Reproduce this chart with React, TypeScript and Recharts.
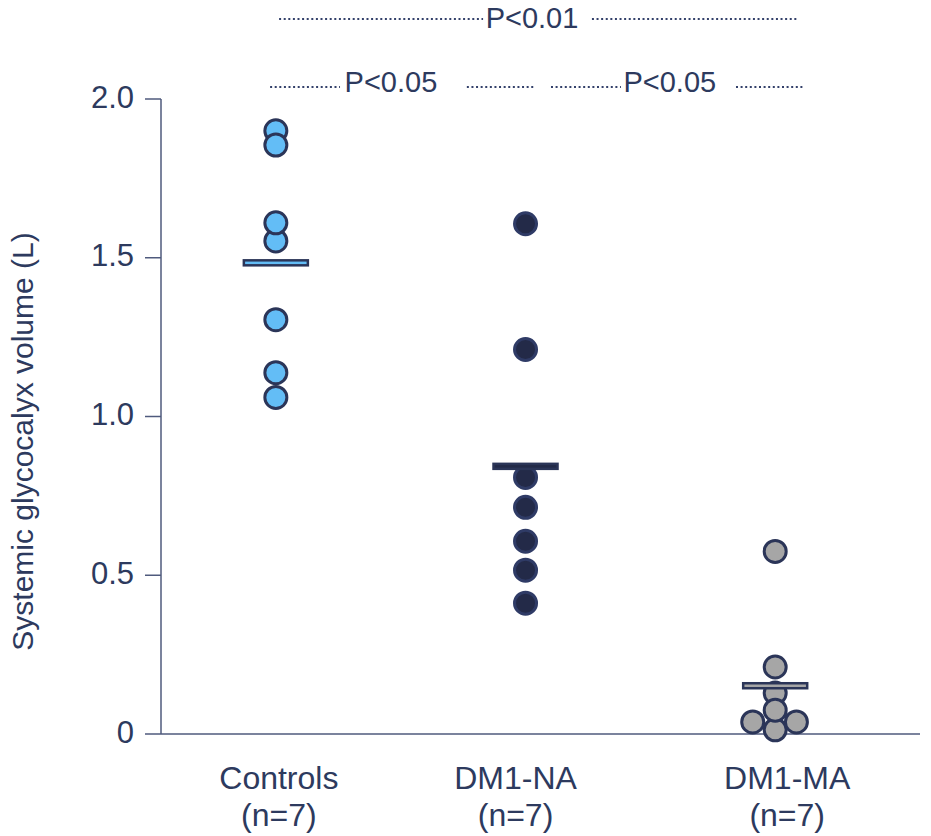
import React from 'react';
import {
  ScatterChart,
  Scatter,
  XAxis,
  YAxis,
  ReferenceLine,
  ReferenceDot,
} from 'recharts';

// groups on the x axis
const categories = ['Controls', 'DM1-NA', 'DM1-MA'];
const groupCounts = ['(n=7)', '(n=7)', '(n=7)'];

// individual values (L), listed in drawing order
const controlsValues = [1.9, 1.855, 1.553, 1.61, 1.305, 1.138, 1.06];
const dm1naValues = [1.607, 1.211, 0.808, 0.714, 0.607, 0.516, 0.412];
const dm1maValues = [0.013, 0.038, 0.038, 0.129, 0.075, 0.211, 0.575];
// horizontal spread of overlapping DM1-MA points (in group units)
const dm1maJitter = [0, -0.09, 0.085, 0, 0, 0, 0];

// group means as drawn
const groupMeans = [1.484, 0.843, 0.152];

const yTicks = [0, 0.5, 1, 1.5, 2];

// significance brackets: dotted segments [x1, x2, y] and their labels
const sigSegments = [
  [1.013, 1.83, 2.252],
  [2.266, 3.087, 2.252],
  [0.977, 1.257, 2.038],
  [1.765, 2.038, 2.038],
  [2.102, 2.382, 2.038],
  [2.843, 3.119, 2.038],
];
const sigLabels = [
  { x: 2.026, y: 2.255, text: 'P<0.01' },
  { x: 1.461, y: 2.053, text: 'P<0.05' },
  { x: 2.578, y: 2.053, text: 'P<0.05' },
];

const FONT = '"Liberation Sans", Arial, sans-serif';
const TEXT = '#2d3a5e';
const AXIS = '#4f5a7d';
const OUTLINE = '#2b3558';
const fills = ['#63bdf6', '#232a48', '#a6a6a6'];

const controlsData = controlsValues.map(v => ({ x: 1, y: v }));
const dm1naData = dm1naValues.map(v => ({ x: 2, y: v }));
const dm1maData = dm1maValues.map((v, i) => ({ x: 3 + dm1maJitter[i], y: v }));
const meanData = groupMeans.map((m, i) => ({ x: i + 1, y: m, g: i }));

const dotShape = (fill: string, stroke: string) => (p: any) => (
  <circle cx={p.cx} cy={p.cy} r={11} fill={fill} stroke={stroke} strokeWidth={3} />
);

const MeanShape = (p: any) => (
  <rect
    x={p.cx - 32}
    y={p.cy - 2.5}
    width={64}
    height={5}
    fill={fills[p.payload.g]}
    stroke={OUTLINE}
    strokeWidth={2.5}
  />
);

// category labels sit a little off the group centres in the original
const labelNudge = [3, -10, 12];

const XTick = (p: any) => {
  const i = p.payload.value - 1;
  const x = p.x + labelNudge[i];
  return (
    <text textAnchor="middle" fontFamily={FONT} fontSize={32} fill={TEXT}>
      <tspan x={x} y={p.y + 47}>{categories[i]}</tspan>
      <tspan x={x} y={p.y + 84}>{groupCounts[i]}</tspan>
    </text>
  );
};

const YTick = (p: any) => (
  <text
    x={p.x}
    y={p.y - 2}
    textAnchor="end"
    dominantBaseline="central"
    fontFamily={FONT}
    fontSize={31}
    fill={TEXT}
  >
    {p.payload.value === 0 ? '0' : p.payload.value.toFixed(1)}
  </text>
);

const YLabel = (p: any) => {
  const vb = p.viewBox;
  const cx = 22;
  const cy = vb.y + vb.height / 2 + 25;
  return (
    <text
      x={cx}
      y={cy}
      transform={`rotate(-90 ${cx} ${cy})`}
      textAnchor="middle"
      dominantBaseline="central"
      fontFamily={FONT}
      fontSize={30}
      fill={TEXT}
    >
      Systemic glycocalyx volume (L)
    </text>
  );
};

export default function App() {
  return (
    <div style={{ position: 'absolute', left: 0, top: 0, background: '#fff' }}>
      <ScatterChart
        width={931}
        height={836}
        margin={{ top: 99, right: 11, bottom: 0, left: 0 }}
      >
        <XAxis
          type="number"
          dataKey="x"
          domain={[0.54, 3.58]}
          ticks={[1, 2, 3]}
          height={102}
          tickLine={false}
          axisLine={{ stroke: AXIS, strokeWidth: 1.5 }}
          tick={<XTick />}
          allowDataOverflow
        />
        <YAxis
          type="number"
          dataKey="y"
          domain={[0, 2]}
          ticks={yTicks}
          width={161}
          tickSize={16}
          tickMargin={11}
          axisLine={{ stroke: AXIS, strokeWidth: 1.5 }}
          tickLine={{ stroke: AXIS, strokeWidth: 1.5 }}
          tick={<YTick />}
          label={<YLabel />}
        />
        <Scatter data={controlsData} shape={dotShape(fills[0], OUTLINE)} isAnimationActive={false} />
        <Scatter data={dm1naData} shape={dotShape(fills[1], '#2f3b66')} isAnimationActive={false} />
        <Scatter data={dm1maData} shape={dotShape(fills[2], OUTLINE)} isAnimationActive={false} />
        <Scatter data={meanData} shape={MeanShape} isAnimationActive={false} />
        {sigSegments.map((s, i) => (
          <ReferenceLine
            key={`seg-${i}`}
            segment={[{ x: s[0], y: s[2] }, { x: s[1], y: s[2] }]}
            stroke="#33406a"
            strokeWidth={2}
            strokeDasharray="2 2.6"
            ifOverflow="visible"
          />
        ))}
        {sigLabels.map((l, i) => (
          <ReferenceDot
            key={`lab-${i}`}
            x={l.x}
            y={l.y}
            r={0}
            ifOverflow="visible"
            shape={(p: any) => (
              <text
                x={p.cx}
                y={p.cy}
                textAnchor="middle"
                dominantBaseline="central"
                fontFamily={FONT}
                fontSize={29}
                fill={TEXT}
              >
                {l.text}
              </text>
            )}
          />
        ))}
      </ScatterChart>
    </div>
  );
}
